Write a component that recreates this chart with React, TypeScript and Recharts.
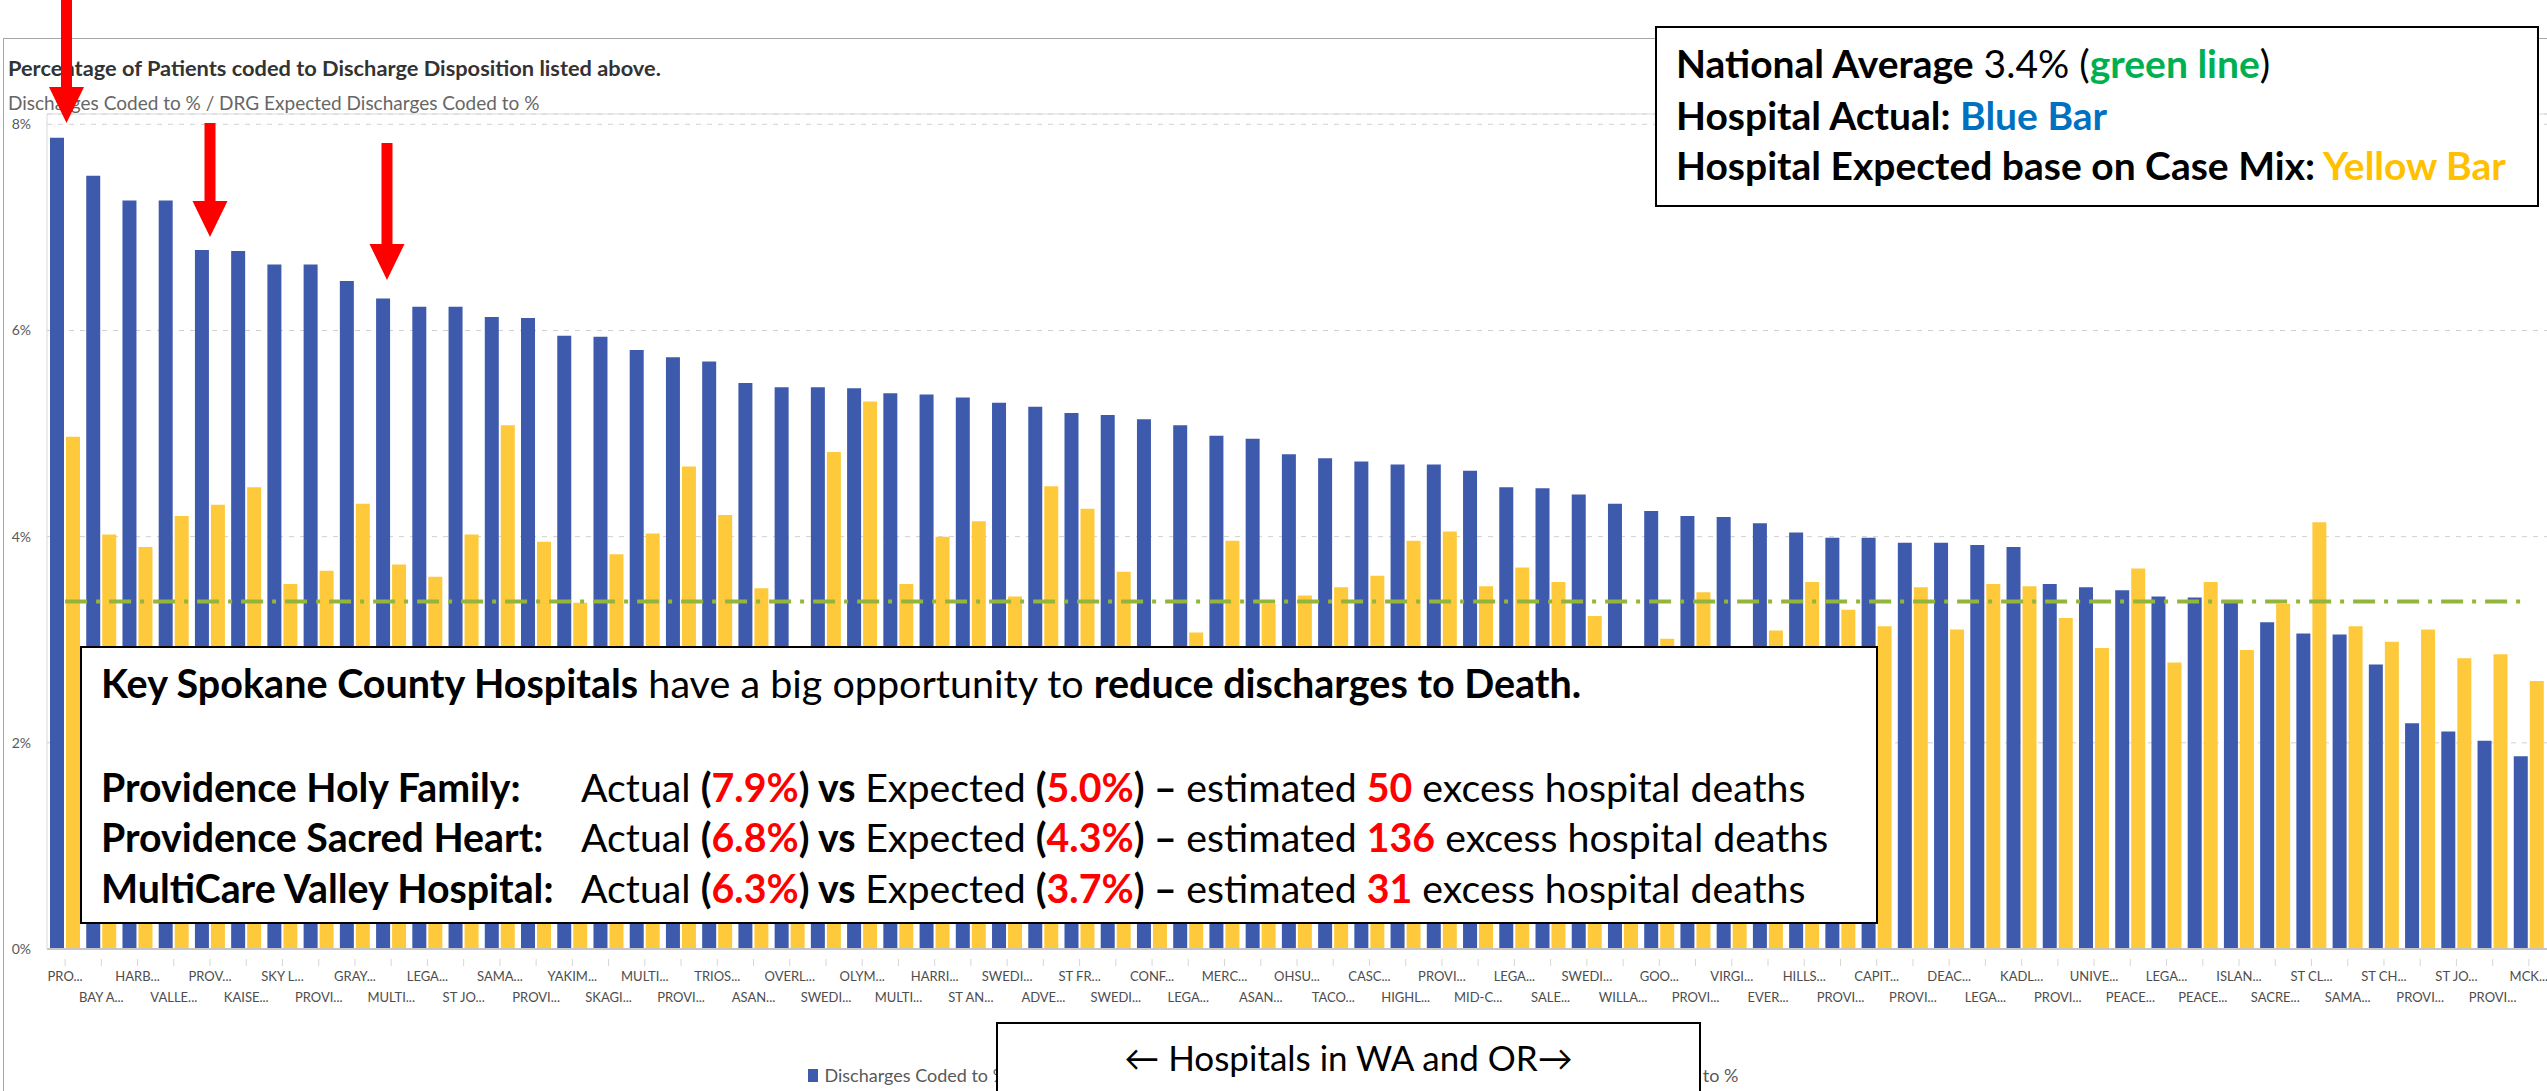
import {
  Bar,
  BarChart,
  CartesianGrid,
  Legend,
  ReferenceLine,
  XAxis,
  YAxis,
} from "recharts";

// truncated hospital labels as they appear on the axis
const hospitals = [
  "PRO...", "BAY A...", "HARB...", "VALLE...", "PROV...", "KAISE...", "SKY L...", "PROVI...",
  "GRAY...", "MULTI...", "LEGA...", "ST JO...", "SAMA...", "PROVI...", "YAKIM...", "SKAGI...",
  "MULTI...", "PROVI...", "TRIOS...", "ASAN...", "OVERL...", "SWEDI...", "OLYM...", "MULTI...",
  "HARRI...", "ST AN...", "SWEDI...", "ADVE...", "ST FR...", "SWEDI...", "CONF...", "LEGA...",
  "MERC...", "ASAN...", "OHSU...", "TACO...", "CASC...", "HIGHL...", "PROVI...", "MID-C...",
  "LEGA...", "SALE...", "SWEDI...", "WILLA...", "GOO...", "PROVI...", "VIRGI...", "EVER...",
  "HILLS...", "PROVI...", "CAPIT...", "PROVI...", "DEAC...", "LEGA...", "KADL...", "PROVI...",
  "UNIVE...", "PEACE...", "LEGA...", "PEACE...", "ISLAN...", "SACRE...", "ST CL...", "SAMA...",
  "ST CH...", "PROVI...", "ST JO...", "PROVI...", "MCK...",
];

// Discharges Coded to % (actual)
const actualPct = [
  7.87, 7.5, 7.26, 7.26, 6.78, 6.77, 6.64, 6.64, 6.48, 6.31, 6.23, 6.23, 6.13, 6.12, 5.95, 5.94,
  5.81, 5.74, 5.7, 5.49, 5.45, 5.45, 5.44, 5.39, 5.38, 5.35, 5.3, 5.26, 5.2, 5.18, 5.14, 5.08,
  4.98, 4.95, 4.8, 4.76, 4.73, 4.7, 4.7, 4.64, 4.48, 4.47, 4.41, 4.32, 4.25, 4.2, 4.19, 4.13,
  4.04, 3.99, 3.99, 3.94, 3.94, 3.92, 3.9, 3.54, 3.51, 3.48, 3.42, 3.41, 3.38, 3.17, 3.06, 3.05,
  2.76, 2.19, 2.11, 2.02, 1.87,
];

// DRG Expected Discharges Coded to %
const expectedPct = [
  4.97, 4.02, 3.9, 4.2, 4.31, 4.48, 3.54, 3.67, 4.32, 3.73, 3.61, 4.02, 5.08, 3.95, 3.36, 3.83,
  4.03, 4.68, 4.21, 3.5, 2.8, 4.82, 5.31, 3.54, 4.0, 4.15, 3.42, 4.49, 4.27, 3.66, 2.7, 3.07,
  3.96, 3.35, 3.43, 3.51, 3.62, 3.96, 4.05, 3.52, 3.7, 3.56, 3.23, 2.8, 3.01, 3.46, 2.7, 3.09,
  3.56, 3.29, 3.13, 3.51, 3.1, 3.54, 3.52, 3.21, 2.92, 3.69, 2.78, 3.56, 2.9, 3.35, 4.14, 3.13,
  2.98, 3.1, 2.82, 2.86, 2.6,
];

const seriesNames = ["Discharges Coded to %", "DRG Expected Discharges Coded to %"];
const yTicks = [0, 2, 4, 6, 8];
const nationalAvg = 3.37;

const data = hospitals.map((name, i) => ({
  key: String(i),
  name,
  actual: actualPct[i],
  expected: expectedPct[i],
}));

const BLUE = "#3e5aad";
const YELLOW = "#ffc93c";
const GREEN = "#93b53b";
const RED = "#ff0000";
const FONT = "Lato, 'Open Sans', sans-serif";

function HospitalTick(props: any) {
  const { x, y, index } = props;
  const lower = index % 2 === 1;
  return (
    <g>
      <line x1={x} x2={x} y1={y + 2} y2={y + 9} stroke="#d6d6d6" />
      <text
        x={x}
        y={y + (lower ? 45 : 24)}
        textAnchor="middle"
        fill="#4d4d4d"
        fontSize={13}
      >
        {hospitals[index]}
      </text>
    </g>
  );
}

function LegendRow(props: any) {
  const items = [...(props.payload || [])].sort(
    (a: any, b: any) => seriesNames.indexOf(a.value) - seriesNames.indexOf(b.value)
  );
  return (
    <div
      style={{
        height: 30,
        display: "flex",
        justifyContent: "center",
        alignItems: "center",
        gap: 412,
        fontSize: 18,
        color: "#595959",
      }}
    >
      {items.map((it: any) => (
        <span key={it.value} style={{ display: "flex", alignItems: "center", gap: 6 }}>
          <span style={{ width: 10, height: 13, background: it.color, display: "inline-block" }} />
          {it.value}
        </span>
      ))}
    </div>
  );
}

function Arrow({ x, top, neck, tip }: { x: number; top: number; neck: number; tip: number }) {
  const pts = [
    [x - 5.5, top],
    [x + 5.5, top],
    [x + 5.5, neck],
    [x + 17.5, neck],
    [x, tip],
    [x - 17.5, neck],
    [x - 5.5, neck],
  ]
    .map((p) => p.join(","))
    .join(" ");
  return <polygon points={pts} fill={RED} />;
}

const boxStyle: React.CSSProperties = {
  position: "absolute",
  background: "#fff",
  border: "2px solid #000",
  boxSizing: "border-box",
};

const line = (top: number, left: number, size: number): React.CSSProperties => ({
  position: "absolute",
  top,
  left,
  fontSize: size,
  lineHeight: "40px",
  whiteSpace: "nowrap",
  color: "#000",
});

function Spokane({ name, actual, expected, deaths, top }: any) {
  return (
    <>
      <div style={{ ...line(top, 19, 39.3), fontWeight: 700 }}>{name}</div>
      <div style={line(top, 499, 39.3)}>
        Actual <b>(</b>
        <b style={{ color: RED }}>{actual}</b>
        <b>) vs </b>Expected <b>(</b>
        <b style={{ color: RED }}>{expected}</b>
        <b>) – </b>estimated <b style={{ color: RED }}>{deaths}</b> excess hospital deaths
      </div>
    </>
  );
}

export default function App() {
  return (
    <div
      style={{
        position: "relative",
        width: 2547,
        height: 1091,
        overflow: "hidden",
        background: "#fff",
        fontFamily: FONT,
      }}
    >
      <style>{"body{margin:0}"}</style>
      <div
        style={{
          position: "absolute",
          left: 3,
          top: 38,
          width: 2544,
          height: 1053,
          borderTop: "1px solid #a6a6a6",
          borderLeft: "1px solid #a6a6a6",
        }}
      />
      <div
        style={{
          position: "absolute",
          left: 8,
          top: 55,
          fontSize: 21.8,
          lineHeight: "26px",
          fontWeight: 700,
          color: "#333",
          whiteSpace: "nowrap",
        }}
      >
        Percentage of Patients coded to Discharge Disposition listed above.
      </div>
      <div
        style={{
          position: "absolute",
          left: 8,
          top: 92,
          fontSize: 19,
          lineHeight: "22px",
          color: "#666",
          whiteSpace: "nowrap",
        }}
      >
        Discharges Coded to % / DRG Expected Discharges Coded to %
      </div>

      <div style={{ position: "absolute", left: 0, top: 0 }}>
        <BarChart
          width={2547}
          height={1091}
          data={data}
          margin={{ top: 114, right: 0, bottom: 1, left: 0 }}
          barSize={14}
          barGap={2}
        >
          <CartesianGrid vertical={false} stroke="#d0d0d0" strokeDasharray="5 6" />
          <XAxis
            dataKey="key"
            interval={0}
            tick={<HospitalTick />}
            tickLine={false}
            axisLine={{ stroke: "#c6c6c6", strokeWidth: 2 }}
            height={111}
          />
          <YAxis
            domain={[0, 8.1]}
            ticks={yTicks}
            tickFormatter={(v: number) => `${v}%`}
            width={47}
            tickLine={false}
            tickMargin={10}
            axisLine={{ stroke: "#d9d9d9" }}
            tick={{ fill: "#595959", fontSize: 14 }}
          />
          <ReferenceLine y={8.1} stroke="#d9d9d9" />
          <Bar dataKey="actual" name={seriesNames[0]} fill={BLUE} isAnimationActive={false} />
          <Bar dataKey="expected" name={seriesNames[1]} fill={YELLOW} isAnimationActive={false} />
          <ReferenceLine
            segment={[
              { x: data[0].key, y: nationalAvg },
              { x: data[data.length - 1].key, y: nationalAvg },
            ]}
            stroke={GREEN}
            strokeWidth={4}
            strokeDasharray="22 9 4 9"
          />
          <Legend verticalAlign="bottom" height={30} content={<LegendRow />} />
        </BarChart>
      </div>

      <svg
        width={2547}
        height={1091}
        style={{ position: "absolute", left: 0, top: 0, pointerEvents: "none" }}
      >
        <Arrow x={66.5} top={0} neck={87} tip={123} />
        <Arrow x={210} top={123} neck={201} tip={237} />
        <Arrow x={387} top={143} neck={244} tip={280} />
      </svg>

      <div style={{ ...boxStyle, left: 1655, top: 26, width: 884, height: 181 }}>
        <div style={line(15, 19, 39)}>
          <b>National Average</b> 3.4% (<b style={{ color: "#00b050" }}>green line</b>)
        </div>
        <div style={{ ...line(67, 19, 39), fontWeight: 700 }}>
          Hospital Actual: <span style={{ color: "#0070c0" }}>Blue Bar</span>
        </div>
        <div style={{ ...line(117, 19, 39), fontWeight: 700 }}>
          Hospital Expected base on Case Mix: <span style={{ color: "#ffc000" }}>Yellow Bar</span>
        </div>
      </div>

      <div style={{ ...boxStyle, left: 80, top: 646, width: 1798, height: 278 }}>
        <div style={line(15, 19, 39.5)}>
          <b>Key Spokane County Hospitals</b> have a big opportunity to{" "}
          <b>reduce discharges to Death.</b>
        </div>
        <Spokane name="Providence Holy Family:" actual="7.9%" expected="5.0%" deaths="50" top={119} />
        <Spokane name="Providence Sacred Heart:" actual="6.8%" expected="4.3%" deaths="136" top={169} />
        <Spokane name="MultiCare Valley Hospital:" actual="6.3%" expected="3.7%" deaths="31" top={220} />
      </div>

      <div
        style={{
          ...boxStyle,
          left: 996,
          top: 1022,
          width: 705,
          height: 90,
          fontSize: 35,
          lineHeight: "66px",
          textAlign: "center",
          color: "#000",
          whiteSpace: "nowrap",
        }}
      >
        ← Hospitals in WA and OR→
      </div>
    </div>
  );
}
